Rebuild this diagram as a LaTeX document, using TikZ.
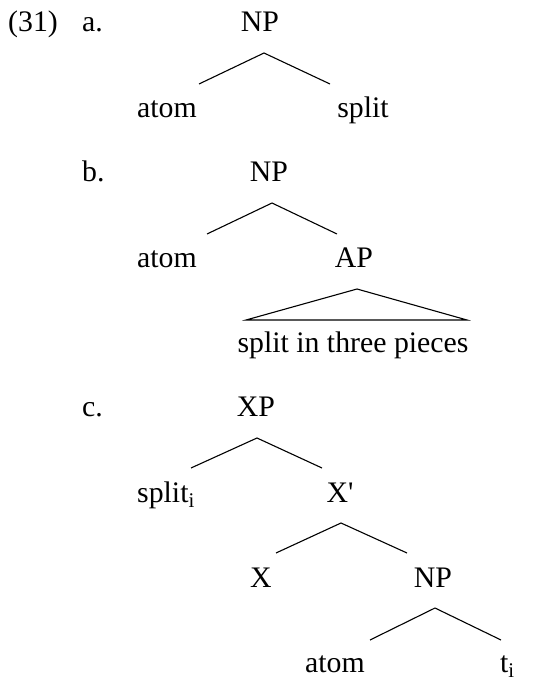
\documentclass[tikz,border=0pt]{standalone}
\usepackage{fontspec}
\setmainfont{Liberation Serif}
\begin{document}
\begin{tikzpicture}[x=1pt,y=-1pt,
  lbl/.style={anchor=base,inner sep=0pt,font=\fontsize{29.8}{34}\selectfont},
  lblw/.style={lbl,anchor=base west},
  edge/.style={line width=1.1pt}]
\useasboundingbox (0,0) rectangle (552,679);
% labels
\node[lblw] (n31) at (8,32) {(31)};
\node[lblw] (la) at (82,32) {a.};
\node[lblw] (lb) at (82,182) {b.};
\node[lblw] (lc) at (82,416) {c.};
% tree a
\node[lbl] (aNP) at (260,32) {NP};
\node[lbl] (aatom) at (167,118) {atom};
\node[lbl] (asplit) at (363,118) {split};
\coordinate (aT) at (264,53);
\coordinate (aL) at (199,84);
\coordinate (aR) at (330,84);
\draw[edge] (aL) -- (aT) -- (aR);
% tree b
\node[lbl] (bNP) at (269,182) {NP};
\node[lbl] (batom) at (167,267) {atom};
\node[lbl] (bAP) at (354,267) {AP};
\node[lbl] (bsplit) at (353,352) {split in three pieces};
\coordinate (bT) at (272,203);
\coordinate (bL) at (207,234);
\coordinate (bR) at (337,234);
\draw[edge] (bL) -- (bT) -- (bR);
\coordinate (tT) at (357,289);
\coordinate (tL) at (246,320);
\coordinate (tR) at (467,320);
\draw[edge] (tT) -- (tL) -- (tR) -- cycle;
% tree c
\node[lbl] (cXP) at (256,416) {XP};
\node[lblw] (csplit) at (137,502) {split\textsubscript{i}};
\node[lbl] (cXbar) at (340,502) {X\textquotesingle};
\coordinate (cT) at (257,438);
\coordinate (cL) at (191,468);
\coordinate (cR) at (322,468);
\draw[edge] (cL) -- (cT) -- (cR);
\node[lbl] (cX) at (261,587) {X};
\node[lbl] (cNP) at (433,587) {NP};
\coordinate (dT) at (341,523);
\coordinate (dL) at (276,553);
\coordinate (dR) at (407,553);
\draw[edge] (dL) -- (dT) -- (dR);
\node[lbl] (catom) at (335,672) {atom};
\node[lblw] (ct) at (500,672) {t\textsubscript{i}};
\coordinate (eT) at (435,608);
\coordinate (eL) at (370,640);
\coordinate (eR) at (501,640);
\draw[edge] (eL) -- (eT) -- (eR);
\end{tikzpicture}
\end{document}
